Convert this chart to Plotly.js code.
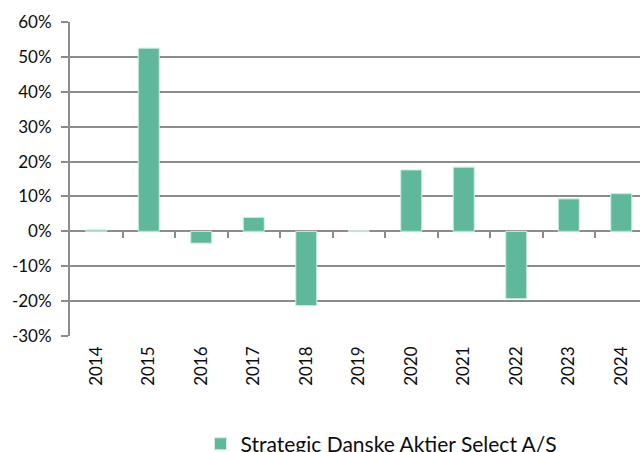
<!DOCTYPE html>
<html>
<head>
<meta charset="utf-8">
<script src="https://cdn.plot.ly/plotly-3.0.1.min.js"></script>
<style>
html,body{margin:0;padding:0;overflow:hidden;background:#fff;}
#chart{width:640px;height:476px;}
</style>
</head>
<body>
<div id="chart"></div>
<script>
const years = ["2014","2015","2016","2017","2018","2019","2020","2021","2022","2023","2024"];
const returns = [0.004, 0.525, -0.034, 0.040, -0.213, 0.002, 0.176, 0.184, -0.193, 0.093, 0.108];
const seriesName = "Strategic Danske Aktier Select A/S";
const yTickVals = [-0.3,-0.2,-0.1,0,0.1,0.2,0.3,0.4,0.5,0.6];
const yTickText = ["-30%","-20%","-10%","0%","10%","20%","30%","40%","50%","60%"];
const boundaryVals = [0.5,1.5,2.5,3.5,4.5,5.5,6.5,7.5,8.5,9.5,10.5];

const font = "Lato, 'Open Sans', sans-serif";
const gridColor = "#8c8c8c";
const textColor = "#0d0d0d";

const traces = [
  {
    type: "bar",
    x: years.map((_, i) => i),
    y: returns,
    name: seriesName,
    width: 0.4,
    marker: {color: "#5fb89c", line: {color: "#cfeee3", width: 1}},
    showlegend: true,
    hoverinfo: "skip"
  },
  {
    type: "scatter",
    mode: "markers",
    x: boundaryVals,
    y: boundaryVals.map(() => 0),
    xaxis: "x2",
    yaxis: "y",
    marker: {opacity: 0},
    showlegend: false,
    hoverinfo: "skip"
  }
];

const layout = {
  width: 640,
  height: 476,
  margin: {l: 70, r: 0, t: 22, b: 140},
  paper_bgcolor: "#fff",
  plot_bgcolor: "#fff",
  font: {family: font, size: 17, color: textColor},
  xaxis: {
    range: [-0.5, 10.357],
    tickmode: "array",
    tickvals: years.map((_, i) => i),
    ticktext: years,
    tickangle: -90,
    ticks: "",
    showgrid: false,
    zeroline: false,
    showline: false,
    ticklabelstandoff: 6,
    tickfont: {family: font, size: 17, color: textColor}
  },
  xaxis2: {
    overlaying: "x",
    anchor: "free",
    position: 1/3,
    side: "bottom",
    range: [-0.5, 10.357],
    tickmode: "array",
    tickvals: boundaryVals,
    showticklabels: false,
    ticks: "outside",
    ticklen: 6,
    tickwidth: 2,
    tickcolor: gridColor,
    showgrid: false,
    zeroline: false,
    showline: false
  },
  yaxis: {
    range: [-0.3, 0.6],
    tickmode: "array",
    tickvals: yTickVals,
    ticktext: yTickText,
    showgrid: true,
    gridcolor: gridColor,
    gridwidth: 2,
    zeroline: false,
    showline: true,
    linecolor: gridColor,
    linewidth: 2,
    ticks: "outside",
    ticklen: 7,
    tickwidth: 2,
    tickcolor: gridColor,
    ticklabelstandoff: 6,
    tickfont: {family: font, size: 17, color: textColor}
  },
  showlegend: true,
  legend: {
    orientation: "h",
    x: 0.229,
    xanchor: "left",
    y: -0.279,
    yanchor: "top",
    font: {family: font, size: 21, color: textColor},
    bgcolor: "rgba(0,0,0,0)"
  }
};

Plotly.newPlot("chart", traces, layout, {staticPlot: true, displayModeBar: false});
</script>
</body>
</html>
